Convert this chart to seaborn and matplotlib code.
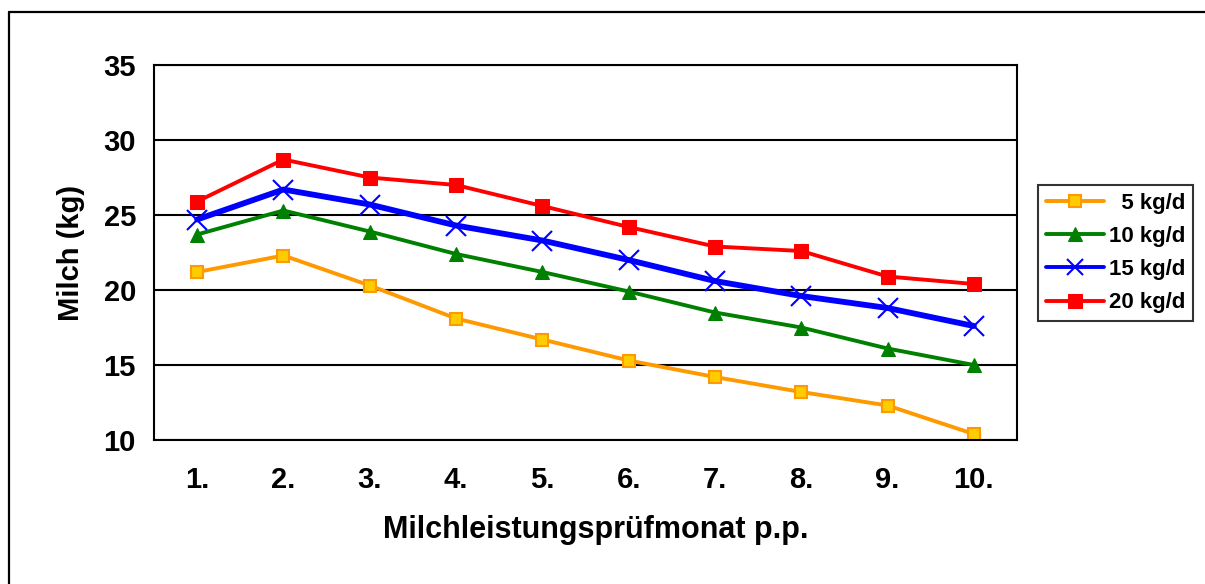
import matplotlib
matplotlib.use("Agg")
import matplotlib.pyplot as plt
import pandas as pd
import seaborn as sns
from matplotlib.lines import Line2D
from matplotlib.ticker import FixedLocator, NullFormatter

# Data
months = ["1.", "2.", "3.", "4.", "5.", "6.", "7.", "8.", "9.", "10."]
milk_5 = [21.2, 22.3, 20.3, 18.1, 16.7, 15.3, 14.2, 13.2, 12.3, 10.4]
milk_10 = [23.7, 25.3, 23.9, 22.4, 21.2, 19.9, 18.5, 17.5, 16.1, 15.0]
milk_15 = [24.7, 26.7, 25.7, 24.3, 23.3, 22.0, 20.6, 19.6, 18.8, 17.6]
milk_20 = [25.9, 28.7, 27.5, 27.0, 25.6, 24.2, 22.9, 22.6, 20.9, 20.4]
series_labels = ["\u20075 kg/d", "10 kg/d", "15 kg/d", "20 kg/d"]

sns.set_style("white")
plt.rcParams["font.family"] = ["Liberation Sans", "DejaVu Sans"]
plt.rcParams["font.weight"] = "bold"
for k in ["text.color", "axes.labelcolor", "xtick.color", "ytick.color"]:
    plt.rcParams[k] = "black"

fig = plt.figure(figsize=(12.05, 5.84), dpi=100)
ax = fig.add_axes([154 / 1205, 1 - 440 / 584, (1017 - 154) / 1205, (440 - 65) / 584])

styles = [
    dict(color="#FF9900", marker="s", markersize=8, markerfacecolor="#FFCC00",
         markeredgecolor="#FF9900", markeredgewidth=1.5, linewidth=2.8),
    dict(color="#008000", marker="^", markersize=9.5, markerfacecolor="#008000",
         markeredgecolor="#008000", linewidth=2.8),
    dict(color="#0000FF", marker="x", markersize=15, markeredgewidth=1.5,
         markeredgecolor="#0000FF", linewidth=4.2),
    dict(color="#FF0000", marker="s", markersize=10.5, markerfacecolor="#FF0000",
         markeredgecolor="#FF0000", linewidth=2.8),
]

x = list(range(len(months)))
for vals, lab, st in zip([milk_5, milk_10, milk_15, milk_20], series_labels, styles):
    df = pd.DataFrame({"x": x, "y": vals})
    sns.lineplot(data=df, x="x", y="y", ax=ax, label=lab, **st)

ax.set_xlim(-0.5, 9.5)
ax.set_ylim(10, 35)
ax.set_yticks(range(10, 36, 5))
ax.yaxis.grid(True, color="black", linewidth=1.5)
ax.set_axisbelow(True)

ax.xaxis.set_major_locator(FixedLocator(x))
ax.set_xticklabels(months)
ax.xaxis.set_minor_locator(FixedLocator([i - 0.5 for i in range(11)]))
ax.xaxis.set_minor_formatter(NullFormatter())
ax.tick_params(axis="x", which="major", length=0, pad=19, labelsize=21)
ax.tick_params(axis="x", which="minor", length=8, width=1.5, color="black", direction="out")
ax.tick_params(axis="y", length=7, width=1.5, color="black", direction="out", pad=6, labelsize=21)
for lab in ax.get_xticklabels() + ax.get_yticklabels():
    lab.set_fontweight("bold")

for sp in ax.spines.values():
    sp.set_color("black")
    sp.set_linewidth(1.5)
    sp.set_visible(True)

ax.set_xlabel("Milchleistungsprüfmonat p.p.", fontsize=22, fontweight="bold", va="center")
ax.xaxis.set_label_coords(0.512, -0.24)
ax.set_ylabel("Milch (kg)", fontsize=21, fontweight="bold", va="center")
ax.yaxis.set_label_coords(-0.096, 0.5)

leg = ax.legend(loc="center left", bbox_to_anchor=(1038 / 1205, 1 - 253 / 584),
                bbox_transform=fig.transFigure, frameon=True, fancybox=False,
                prop={"size": 16, "weight": "bold"}, handlelength=2.6,
                borderpad=0.35, labelspacing=0.55, handletextpad=0.25,
                borderaxespad=0)
leg.get_frame().set_edgecolor("black")
leg.get_frame().set_linewidth(1.5)
for h in leg.get_lines():
    h.set_linewidth(2.8)
    if h.get_marker() == "x":
        h.set_markersize(12)

# outer chart border (only left and top visible in the reference)
fig.add_artist(Line2D([9 / 1205, 9 / 1205], [0, 1 - 12 / 584], transform=fig.transFigure,
                      color="black", linewidth=1.6))
fig.add_artist(Line2D([9 / 1205, 1], [1 - 12 / 584, 1 - 12 / 584], transform=fig.transFigure,
                      color="black", linewidth=1.6))

fig.savefig("out.png", dpi=100)
